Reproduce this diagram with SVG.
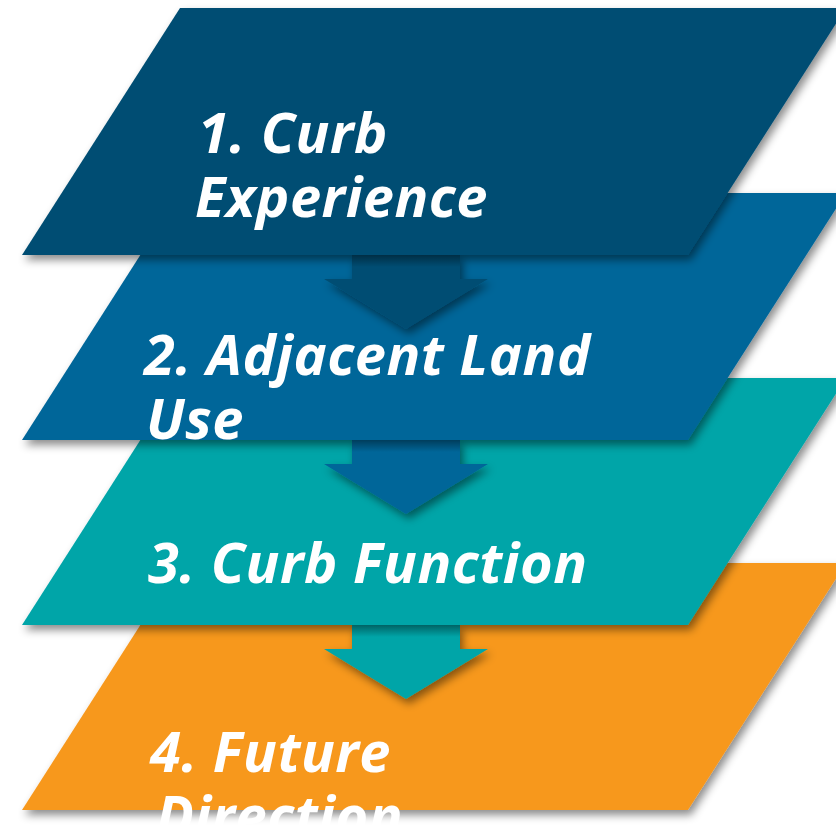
<svg xmlns="http://www.w3.org/2000/svg" width="836" height="825" viewBox="0 0 836 825">
  <defs>
    <style>
      .lbl { font-family: "Open Sans", "Noto Sans", "DejaVu Sans", sans-serif; font-weight: 700; font-style: italic; font-size: 56px; letter-spacing: 0.5px; fill: #ffffff; }
      .s1 { fill: #044E73; }
      .s2 { fill: #006699; }
      .s3 { fill: #00A5A8; }
      .s4 { fill: #F7981F; }
    </style>
    <filter id="shadow" x="-10%" y="-10%" width="125%" height="130%">
      <feDropShadow dx="3" dy="5" stdDeviation="4" flood-color="#000000" flood-opacity="0.45"/>
    </filter>
    <filter id="ashadow" x="-10%" y="0%" width="125%" height="130%">
      <feDropShadow dx="3" dy="5" stdDeviation="4" flood-color="#000000" flood-opacity="0.45"/>
    </filter>
    <linearGradient id="topshade" x1="0" y1="0" x2="0" y2="1">
      <stop offset="0" stop-color="#000000" stop-opacity="0.4"/>
      <stop offset="1" stop-color="#000000" stop-opacity="0"/>
    </linearGradient>
    <path id="arrow" d="M352,0 L460,0 L460,24 L488,24 L406,74 L324,24 L352,24 Z"/>
  </defs>

  <g id="node4">
    <path class="s4" filter="url(#shadow)" d="M180,563 L846,563 L688,810 L22,810 Z"/>
  </g>
  <g id="node3">
    <path class="s3" filter="url(#shadow)" d="M180,378 L846,378 L688,625 L22,625 Z"/>
  </g>
  <g id="node2">
    <path class="s2" filter="url(#shadow)" d="M180,193 L846,193 L688,440 L22,440 Z"/>
  </g>
  <g id="node1">
    <path class="s1" filter="url(#shadow)" d="M180,8 L846,8 L688,255 L22,255 Z"/>
  </g>

  <g id="connectors">
    <g transform="translate(0,255)">
      <use href="#arrow" class="s1" filter="url(#ashadow)"/>
      <rect x="352" y="0" width="108" height="12" fill="url(#topshade)"/>
    </g>
    <g transform="translate(0,440)">
      <use href="#arrow" class="s2" filter="url(#ashadow)"/>
      <rect x="352" y="0" width="108" height="12" fill="url(#topshade)"/>
    </g>
    <g transform="translate(0,625)">
      <use href="#arrow" class="s3" filter="url(#ashadow)"/>
      <rect x="352" y="0" width="108" height="12" fill="url(#topshade)"/>
    </g>
  </g>

  <g id="labels">
    <text class="lbl" x="198" y="153">1. Curb</text>
    <text class="lbl" x="195" y="217">Experience</text>
    <text class="lbl" x="144" y="375">2. Adjacent Land</text>
    <text class="lbl" x="146" y="439">Use</text>
    <text class="lbl" x="148" y="583">3. Curb Function</text>
    <text class="lbl" x="150" y="772">4. Future</text>
    <text class="lbl" x="156" y="836">Direction</text>
  </g>
</svg>
